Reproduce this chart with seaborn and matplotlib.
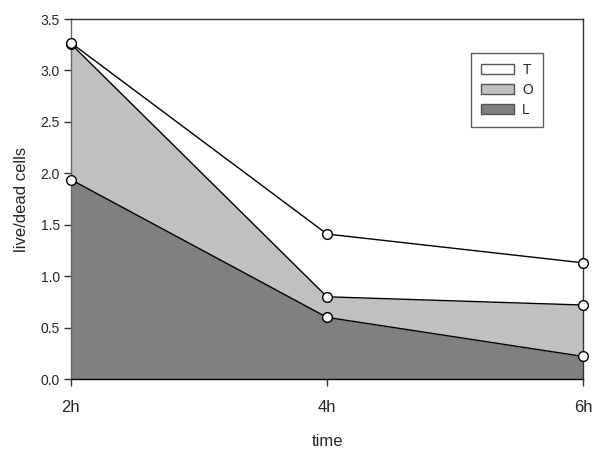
import matplotlib
matplotlib.use("Agg")
import matplotlib.pyplot as plt
import seaborn as sns
import pandas as pd
from matplotlib.patches import Patch

times = ["2h", "4h", "6h"]
L_vals = [1.94, 0.60, 0.22]
O_vals = [3.26, 0.80, 0.72]
T_vals = [3.27, 1.41, 1.13]

sns.set_style("white")
plt.rcParams["font.family"] = ["Liberation Sans", "DejaVu Sans"]

fig = plt.figure(figsize=(6.0, 4.54), dpi=100)
ax = fig.add_axes([0.118, 0.165, 0.854, 0.793])

x = list(range(len(times)))
ax.fill_between(x, 0, L_vals, color="#808080", linewidth=0, zorder=1)
ax.fill_between(x, L_vals, O_vals, color="#c0c0c0", linewidth=0, zorder=1)
ax.fill_between(x, O_vals, T_vals, color="white", linewidth=0, zorder=1)

df = pd.DataFrame({
    "x": x * 3,
    "value": L_vals + O_vals + T_vals,
    "series": ["L"] * 3 + ["O"] * 3 + ["T"] * 3,
})
sns.lineplot(data=df, x="x", y="value", units="series", estimator=None,
             color="black", linewidth=1.0, marker="o", markersize=7,
             markerfacecolor="white", markeredgecolor="black",
             markeredgewidth=1.0, ax=ax, zorder=3, clip_on=False)

ax.set_xlim(0, 2)
ax.set_ylim(0, 3.5)
ax.set_xticks(x)
ax.set_xticklabels(times, fontsize=12)
ax.set_yticks([0, 0.5, 1.0, 1.5, 2.0, 2.5, 3.0, 3.5])
ax.set_yticklabels(["0.0", "0.5", "1.0", "1.5", "2.0", "2.5", "3.0", "3.5"], fontsize=10)
ax.tick_params(axis="both", direction="out", length=5, width=1, color="#333333",
               bottom=True, left=True)
ax.tick_params(axis="x", pad=10)
ax.tick_params(axis="y", pad=3)
for side in ["top", "right", "left", "bottom"]:
    ax.spines[side].set_visible(True)
    ax.spines[side].set_color("#333333")
    ax.spines[side].set_linewidth(1.0)
ax.spines["left"].set_color("#666666")
ax.spines["bottom"].set_color("black")

ax.set_xlabel("time", fontsize=12, labelpad=14)
ax.set_ylabel("live/dead cells", fontsize=12, labelpad=8)

handles = [Patch(facecolor="white", edgecolor="#555555", label="T"),
           Patch(facecolor="#c0c0c0", edgecolor="#555555", label="O"),
           Patch(facecolor="#808080", edgecolor="#555555", label="L")]
leg = ax.legend(handles=handles, loc="upper left", bbox_to_anchor=(0.781, 0.906),
                borderaxespad=0,
                frameon=True, fancybox=False, edgecolor="#333333", fontsize=10,
                handlelength=2.4, handleheight=0.75, labelspacing=0.45,
                borderpad=0.7, handletextpad=0.6)
leg.get_frame().set_linewidth(1.0)

fig.savefig("out.png", dpi=100)
